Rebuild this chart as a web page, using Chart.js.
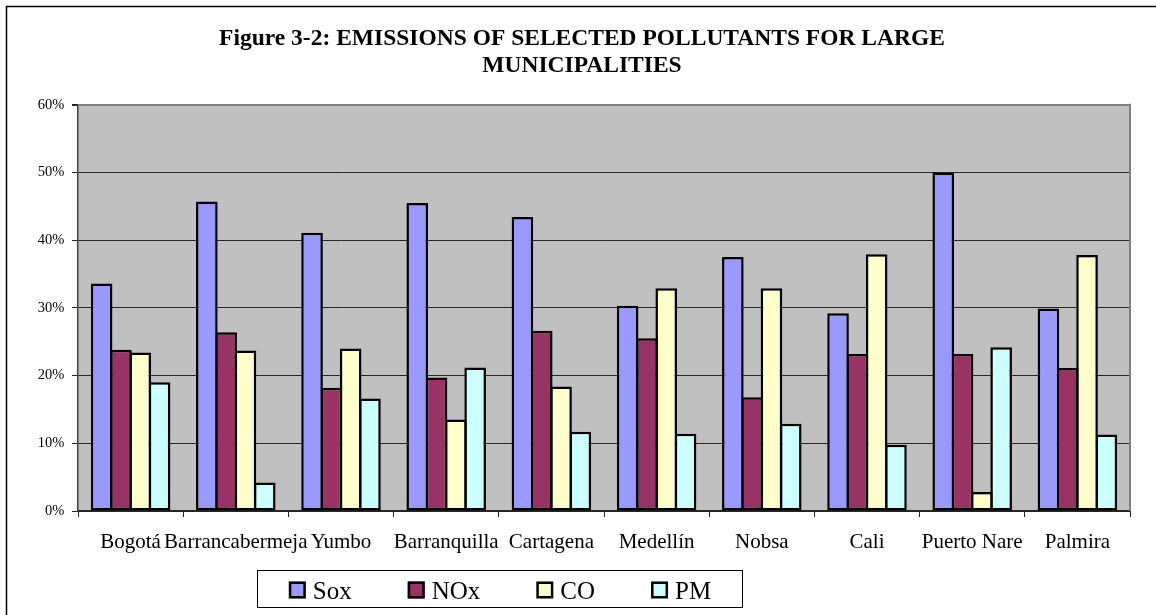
<!DOCTYPE html>
<html>
<head>
<meta charset="utf-8">
<script src="https://cdn.jsdelivr.net/npm/chart.js@4/dist/chart.umd.min.js"></script>
<style>
  html, body { margin: 0; padding: 0; background: #ffffff; }
  #wrap { width: 1156px; height: 615px; position: relative; }
</style>
</head>
<body>
<div id="wrap"><canvas id="chart" width="1156" height="615"></canvas></div>
<script>
// Share of each pollutant's emissions, per municipality (percent)
const categories = ['Bogotá', 'Barrancabermeja', 'Yumbo', 'Barranquilla', 'Cartagena',
                    'Medellín', 'Nobsa', 'Cali', 'Puerto Nare', 'Palmira'];
const seriesNames = ['Sox', 'NOx', 'CO', 'PM'];
const soxValues = [33.6, 45.7, 41.1, 45.5, 43.4, 30.3, 37.5, 29.2, 50.0, 29.9];
const noxValues = [23.8, 26.4, 18.2, 19.7, 26.6, 25.5, 16.8, 23.2, 23.2, 21.1];
const coValues  = [23.4, 23.7, 24.0, 13.5, 18.4, 32.9, 32.9, 37.9, 2.8, 37.8];
const pmValues  = [19.0, 4.2, 16.6, 21.2, 11.7, 11.4, 12.9, 9.8, 24.2, 11.3];
const yTickValues = [0, 10, 20, 30, 40, 50, 60];
const titleLines = ['Figure 3-2: EMISSIONS OF SELECTED POLLUTANTS FOR LARGE', 'MUNICIPALITIES'];

const SERIF = '"Liberation Serif", "Times New Roman", Times, serif';
const seriesColors = ['#9999FF', '#993366', '#FFFFCC', '#CCFFFF'];
const seriesValues = [soxValues, noxValues, coValues, pmValues];

// Grey plot background plus the outer frame of the figure
const framePlugin = {
  id: 'frame',
  beforeDraw(chart) {
    const { ctx, chartArea: a } = chart;
    ctx.save();
    ctx.fillStyle = '#C0C0C0';
    ctx.fillRect(a.left, a.top, a.right - a.left, a.bottom - a.top);
    ctx.restore();
  },
  afterDraw(chart) {
    const { ctx, chartArea: a } = chart;
    ctx.save();
    // right edge of the plot area
    ctx.strokeStyle = '#808080';
    ctx.lineWidth = 2;
    ctx.beginPath();
    ctx.moveTo(a.right, a.top - 1);
    ctx.lineTo(a.right, a.bottom);
    ctx.stroke();
    // figure frame (top and left)
    ctx.strokeStyle = '#000000';
    ctx.lineWidth = 1.5;
    ctx.beginPath();
    ctx.moveTo(chart.width, 6.5);
    ctx.lineTo(6.5, 6.5);
    ctx.lineTo(6.5, chart.height);
    ctx.stroke();
    ctx.restore();
  }
};

// Boxed legend below the category labels
const boxedLegend = {
  id: 'boxedLegend',
  afterDraw(chart) {
    const { ctx } = chart;
    const box = { left: 257.5, top: 570.5, width: 485, height: 37 };
    const sw = 17, textGap = 7, itemGap = 56;
    ctx.save();
    ctx.font = '25px ' + SERIF;
    const items = chart.data.datasets.map(ds => ({
      label: ds.label, fill: ds.backgroundColor, w: ctx.measureText(ds.label).width
    }));
    const total = items.reduce((s, it) => s + sw + textGap + it.w, 0) + itemGap * (items.length - 1);
    let x = box.left + (box.width - total) / 2;
    ctx.strokeStyle = '#000000';
    ctx.lineWidth = 1;
    ctx.strokeRect(box.left, box.top, box.width, box.height);
    const midY = box.top + box.height / 2;
    items.forEach(it => {
      ctx.fillStyle = it.fill;
      ctx.fillRect(x, midY - sw / 2 + 1, sw, sw);
      ctx.lineWidth = 2.5;
      ctx.strokeStyle = '#000000';
      ctx.strokeRect(x + 1.25, midY - sw / 2 + 2.25, sw - 2.5, sw - 2.5);
      ctx.fillStyle = '#000000';
      ctx.textBaseline = 'alphabetic';
      ctx.textAlign = 'left';
      ctx.fillText(it.label, x + sw + textGap, midY + 9.5);
      x += sw + textGap + it.w + itemGap;
    });
    ctx.restore();
  }
};

new Chart(document.getElementById('chart'), {
  type: 'bar',
  data: {
    labels: categories,
    datasets: seriesNames.map((name, i) => ({
      label: name,
      data: seriesValues[i],
      backgroundColor: seriesColors[i],
      borderColor: '#000000',
      borderWidth: 2.5,
      borderSkipped: false,
      barPercentage: 1.12,
      categoryPercentage: 0.734
    }))
  },
  options: {
    responsive: false,
    animation: false,
    layout: { padding: { left: 34, right: 26, top: 0, bottom: 60 } },
    plugins: {
      legend: { display: false },
      tooltip: { enabled: false },
      title: {
        display: true,
        text: titleLines,
        color: '#000000',
        font: { family: SERIF, size: 23.5, weight: 'bold', lineHeight: 27 / 23.5 },
        padding: { top: 25.3, bottom: 25.4 }
      }
    },
    scales: {
      x: {
        offset: true,
        afterFit(scale) { scale.height = 44; },
        grid: {
          offset: true,
          drawOnChartArea: false,
          drawTicks: true,
          tickLength: 6,
          color: (c) => (c.index === categories.length ? '#808080' : '#262626'),
          lineWidth: 1
        },
        border: { display: true, color: '#262626', width: 2 },
        ticks: {
          autoSkip: false,
          maxRotation: 0,
          minRotation: 0,
          padding: 13,
          color: '#000000',
          font: { family: SERIF, size: 21 }
        }
      },
      y: {
        min: yTickValues[0],
        max: yTickValues[yTickValues.length - 1],
        afterFit(scale) { scale.width = 44; },
        afterBuildTicks(scale) { scale.ticks = yTickValues.map(v => ({ value: v })); },
        grid: {
          drawTicks: true,
          tickLength: 6,
          color: (c) => (c.tick && c.tick.value === 60 ? '#808080' : '#262626'),
          lineWidth: (c) => (c.tick && c.tick.value === 60 ? 2 : 1),
          tickColor: '#262626'
        },
        border: { display: true, color: '#404040', width: 1.5 },
        ticks: {
          padding: 7.7,
          color: '#000000',
          font: { family: SERIF, size: 14.5 },
          callback: (v) => v + '%'
        }
      }
    }
  },
  plugins: [framePlugin, boxedLegend]
});
</script>
</body>
</html>
